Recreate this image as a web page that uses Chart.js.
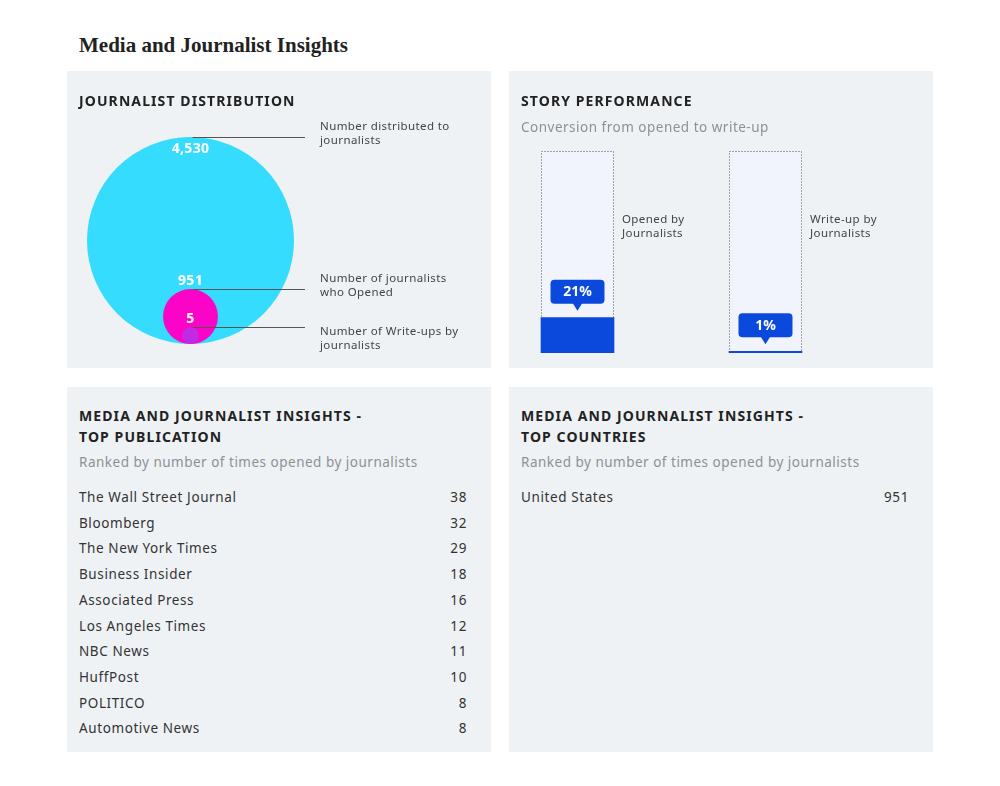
<!DOCTYPE html>
<html>
<head>
<meta charset="utf-8">
<script src="https://cdn.jsdelivr.net/npm/chart.js@4.4.1/dist/chart.umd.min.js"></script>
<style>
  body { margin: 0; background: #fff; font-family: "Noto Sans", sans-serif; color: #333; }
  #page { position: relative; width: 1000px; height: 786px; }
  .title { position: absolute; left: 79px; top: 33px; font-family: "Liberation Serif", serif; font-weight: bold; font-size: 21px; line-height: 24px; color: #222; }
  .panel { position: absolute; width: 424px; background: #eef2f5; }
  .panel canvas { position: absolute; left: 0; top: 0; }
  .ptitle { position: absolute; left: 12px; font-weight: bold; font-size: 14px; line-height: 21px; color: #222; letter-spacing: 1.1px; }
  .psub { position: absolute; left: 12px; font-size: 13.5px; line-height: 18px; color: #8c9196; letter-spacing: 0.5px; }
  .rows { position: absolute; left: 12px; right: 24px; }
  .row { display: flex; justify-content: space-between; font-size: 13.5px; line-height: 25.7px; color: #333; letter-spacing: 0.6px; }
</style>
</head>
<body>
<div id="page">
  <div class="title">Media and Journalist Insights</div>

  <div class="panel" style="left:67px; top:71px; height:297px;">
    <canvas id="dist" width="424" height="297"></canvas>
    <div class="ptitle" style="top:19px;">JOURNALIST DISTRIBUTION</div>
  </div>

  <div class="panel" style="left:509px; top:71px; height:297px;">
    <canvas id="perf" width="424" height="297"></canvas>
    <div class="ptitle" style="top:19px;">STORY PERFORMANCE</div>
    <div class="psub" style="top:47px;">Conversion from opened to write-up</div>
  </div>

  <div class="panel" style="left:67px; top:387px; height:365px;">
    <div class="ptitle" style="top:18px;">MEDIA AND JOURNALIST INSIGHTS -<br>TOP PUBLICATION</div>
    <div class="psub" style="top:66px;">Ranked by number of times opened by journalists</div>
    <div class="rows" id="pubRows" style="top:98px;"></div>
  </div>

  <div class="panel" style="left:509px; top:387px; height:365px;">
    <div class="ptitle" style="top:18px;">MEDIA AND JOURNALIST INSIGHTS -<br>TOP COUNTRIES</div>
    <div class="psub" style="top:66px;">Ranked by number of times opened by journalists</div>
    <div class="rows" id="countryRows" style="top:98px;"></div>
  </div>
</div>

<script>
// journalist distribution
const distLabels = [
  ['Number distributed to', 'journalists'],
  ['Number of journalists', 'who Opened'],
  ['Number of Write-ups by', 'journalists']
];
const distValues = [4530, 951, 5];
const distColors = ['#35dcfd', '#fc04c8', '#c02ce6'];

// story performance
const perfCategories = [['Opened by', 'Journalists'], ['Write-up by', 'Journalists']];
const perfValues = [21, 1];

// top lists
const publications = ['The Wall Street Journal', 'Bloomberg', 'The New York Times', 'Business Insider',
  'Associated Press', 'Los Angeles Times', 'NBC News', 'HuffPost', 'POLITICO', 'Automotive News'];
const publicationOpens = [38, 32, 29, 18, 16, 12, 11, 10, 8, 8];
const countries = ['United States'];
const countryOpens = [951];

Chart.defaults.font.family = '"Noto Sans", sans-serif';

function fillRows(id, names, values) {
  const box = document.getElementById(id);
  names.forEach((n, i) => {
    const row = document.createElement('div');
    row.className = 'row';
    row.innerHTML = '<span>' + n + '</span><span>' + values[i] + '</span>';
    box.appendChild(row);
  });
}
fillRows('pubRows', publications, publicationOpens);
fillRows('countryRows', countries, countryOpens);

// circle size in y-scale units (largest = 50), small ones get a minimum
const maxDist = Math.max(...distValues);
function sizeUnits(v) {
  return Math.max(50 * Math.pow(v / maxDist, 0.85), 4);
}

const distNotes = {
  id: 'distNotes',
  afterDatasetsDraw(chart) {
    const ctx = chart.ctx;
    const meta = chart.getDatasetMeta(0);
    const textOffsets = [-11, -11, 4];
    ctx.save();
    meta.data.forEach((el, i) => {
      const topY = Math.round(el.y - el.options.radius) + 0.5;
      ctx.strokeStyle = '#555';
      ctx.lineWidth = 1;
      ctx.beginPath();
      ctx.moveTo(el.x + 2, topY);
      ctx.lineTo(238, topY);
      ctx.stroke();

      ctx.fillStyle = '#fff';
      ctx.font = 'bold 14px "Noto Sans"';
      ctx.letterSpacing = '0.3px';
      ctx.textAlign = 'center';
      ctx.textBaseline = 'middle';
      const ty = i === 0 ? topY + 12 : topY - 8;
      ctx.fillText(distValues[i].toLocaleString('en-US'), el.x, ty);

      ctx.fillStyle = '#444';
      ctx.font = '11.5px "Noto Sans"';
      ctx.letterSpacing = '0.4px';
      ctx.textAlign = 'left';
      distLabels[i].forEach((line, k) => {
        ctx.fillText(line, 253, topY + textOffsets[i] + k * 14);
      });
      ctx.letterSpacing = '0px';
    });
    ctx.restore();
  }
};

new Chart(document.getElementById('dist'), {
  type: 'scatter',
  data: {
    datasets: [{
      data: distValues.map(v => ({ x: 0, y: sizeUnits(v) })),
      pointBackgroundColor: distColors,
      pointBorderWidth: 0,
      clip: false,
      pointRadius: ctx => {
        const y = ctx.chart.scales.y;
        if (!y || !ctx.raw) return 0;
        return y.getPixelForValue(0) - y.getPixelForValue(ctx.raw.y);
      }
    }]
  },
  options: {
    responsive: false,
    animation: false,
    events: [],
    layout: { padding: { left: 12, right: 189, top: 66, bottom: 24 } },
    scales: {
      x: { type: 'linear', min: -1, max: 1, display: false },
      y: { type: 'linear', min: 0, max: 100, display: false }
    },
    plugins: { legend: { display: false }, tooltip: { enabled: false } }
  },
  plugins: [distNotes]
});

const perfDeco = {
  id: 'perfDeco',
  beforeDatasetsDraw(chart) {
    const ctx = chart.ctx;
    const area = chart.chartArea;
    const meta = chart.getDatasetMeta(0);
    ctx.save();
    meta.data.forEach(el => {
      const l = Math.round(el.x - el.width / 2) + 0.5;
      const r = Math.round(el.x + el.width / 2) - 0.5;
      ctx.fillStyle = '#f1f4fc';
      ctx.fillRect(l, area.top, r - l, area.bottom - area.top);
      ctx.strokeStyle = '#50555b';
      ctx.lineWidth = 1;
      ctx.setLineDash([1, 2]);
      ctx.strokeRect(l, Math.round(area.top) + 0.5, r - l, area.bottom - area.top - 1);
    });
    ctx.restore();
  },
  afterDatasetsDraw(chart) {
    const ctx = chart.ctx;
    const meta = chart.getDatasetMeta(0);
    const yScale = chart.scales.y;
    ctx.save();
    meta.data.forEach((el, i) => {
      const tip = el.y - 7;
      const bottom = tip - 7;
      const top = bottom - 24;
      ctx.fillStyle = '#0b49dc';
      ctx.beginPath();
      ctx.roundRect(el.x - 27, top, 54, 24, 4);
      ctx.fill();
      ctx.beginPath();
      ctx.moveTo(el.x - 5, bottom - 1);
      ctx.lineTo(el.x, tip);
      ctx.lineTo(el.x + 5, bottom - 1);
      ctx.closePath();
      ctx.fill();
      ctx.fillStyle = '#fff';
      ctx.font = 'bold 14px "Noto Sans"';
      ctx.textAlign = 'center';
      ctx.textBaseline = 'middle';
      ctx.fillText(perfValues[i] + '%', el.x, top + 12.5);

      ctx.fillStyle = '#444';
      ctx.font = '11.5px "Noto Sans"';
      ctx.letterSpacing = '0.4px';
      ctx.textAlign = 'left';
      const cy = yScale.getPixelForValue(75);
      perfCategories[i].forEach((line, k) => {
        ctx.fillText(line, el.x + el.width / 2 + 8, cy - 7 + k * 14);
      });
      ctx.letterSpacing = '0px';
    });
    ctx.restore();
  }
};

new Chart(document.getElementById('perf'), {
  type: 'bar',
  data: {
    datasets: [{
      data: perfValues.map((v, i) => ({ x: i, y: v })),
      backgroundColor: '#0b49dc',
      borderWidth: 0,
      barThickness: 73
    }]
  },
  options: {
    responsive: false,
    animation: false,
    events: [],
    layout: { padding: { left: 12, right: 12, top: 80, bottom: 15 } },
    scales: {
      x: { type: 'linear', min: -0.3005, max: 1.8272, offset: false, display: false },
      y: { min: 0, max: 120, display: false }
    },
    plugins: { legend: { display: false }, tooltip: { enabled: false } }
  },
  plugins: [perfDeco]
});
</script>
</body>
</html>
